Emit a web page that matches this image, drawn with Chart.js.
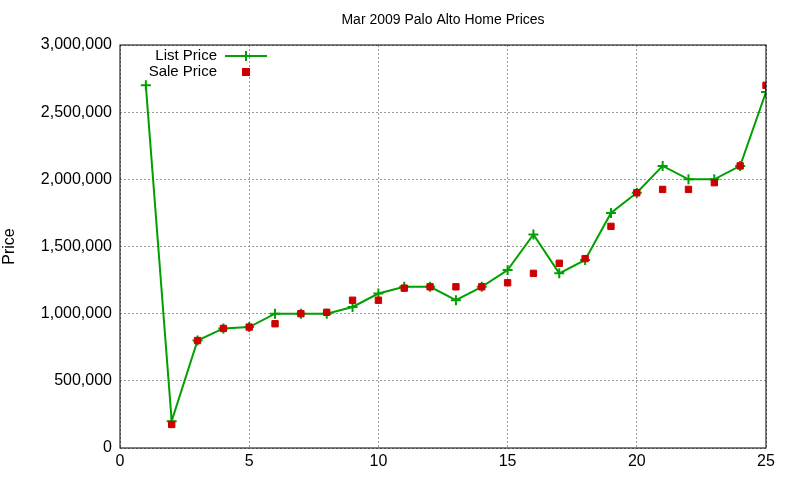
<!DOCTYPE html>
<html>
<head>
<meta charset="utf-8">
<script src="https://cdn.jsdelivr.net/npm/chart.js@4"></script>
<style>
  body { margin: 0; background: #fff; }
  #wrap { width: 800px; height: 480px; }
</style>
</head>
<body>
<div id="wrap"><canvas id="chart"></canvas></div>
<script>
const chartTitle = "Mar 2009 Palo Alto Home Prices";
const houseIndex = [1,2,3,4,5,6,7,8,9,10,11,12,13,14,15,16,17,18,19,20,21,22,23,24,25];
const listPrice = [2700000,200000,800000,890000,900000,1000000,1000000,1000000,1050000,1150000,1200000,1200000,1100000,1200000,1325000,1590000,1300000,1400000,1750000,1900000,2100000,2000000,2000000,2100000,2650000];
const salePrice = [175000,175000,800000,890000,900000,925000,1000000,1010000,1100000,1100000,1190000,1200000,1200000,1200000,1230000,1300000,1375000,1410000,1650000,1900000,1925000,1925000,1975000,2100000,2700000];
salePrice[0] = null; // no sale for the first listing
const xTicks = [0,5,10,15,20,25];

const font = { family: "Liberation Sans", size: 16 };

// gnuplot-style title and legend, drawn on top
const gnuDecor = {
  id: "gnuDecor",
  afterDraw(chart) {
    const ctx = chart.ctx;
    const a = chart.chartArea;
    ctx.save();
    ctx.fillStyle = "#000";
    ctx.font = "14px Liberation Sans";
    ctx.textAlign = "center";
    ctx.textBaseline = "middle";
    ctx.fillText(chartTitle, (a.left + a.right) / 2, 20);
    ctx.font = "15px Liberation Sans";
    ctx.textAlign = "right";
    ctx.fillText("List Price", 217, 56);
    ctx.fillText("Sale Price", 217, 72);
    ctx.strokeStyle = "#00a000";
    ctx.lineWidth = 2;
    ctx.beginPath();
    ctx.moveTo(225, 56); ctx.lineTo(267, 56);
    ctx.moveTo(246, 51); ctx.lineTo(246, 61);
    ctx.moveTo(241, 56); ctx.lineTo(251, 56);
    ctx.stroke();
    ctx.fillStyle = "#cc0000";
    ctx.fillRect(242, 68, 8, 8);
    // border
    ctx.strokeStyle = "#000";
    ctx.lineWidth = 1;
    ctx.strokeRect(a.left, a.top, a.right - a.left, a.bottom - a.top);
    ctx.restore();
  }
};

new Chart(document.getElementById("chart"), {
  type: "scatter",
  data: {
    datasets: [
      {
        label: "List Price",
        data: houseIndex.map((x, i) => ({ x, y: listPrice[i] })),
        showLine: true,
        borderColor: "#00a000",
        backgroundColor: "#00a000",
        borderWidth: 2,
        pointStyle: "cross",
        pointRadius: 5,
        pointBorderWidth: 2,
        order: 2
      },
      {
        label: "Sale Price",
        data: houseIndex.map((x, i) => ({ x, y: salePrice[i] })).filter(p => p.y !== null),
        showLine: false,
        borderColor: "#cc0000",
        backgroundColor: "#cc0000",
        pointStyle: "rect",
        pointRadius: 4.5,
        order: 1
      }
    ]
  },
  options: {
    responsive: true,
    maintainAspectRatio: false,
    animation: false,
    layout: { padding: { top: 45, right: 34, left: 0, bottom: 0 } },
    plugins: { legend: { display: false }, title: { display: false }, tooltip: { enabled: false } },
    scales: {
      x: {
        type: "linear", min: 0, max: 25,
        afterBuildTicks: s => { s.ticks = xTicks.map(v => ({ value: v })); },
        afterFit: s => { s.height = 32; },
        ticks: { color: "#000", font, maxRotation: 0, padding: 4 },
        grid: { color: "#999", tickLength: 0, drawTicks: false },
        border: { display: false, dash: [2, 2] }
      },
      y: {
        min: 0, max: 3000000,
        afterFit: s => { s.width = 120; },
        ticks: { stepSize: 500000, color: "#000", font, padding: 8 },
        grid: { color: "#999", drawTicks: false },
        border: { display: false, dash: [2, 2] },
        title: { display: true, text: "Price", color: "#000", font, padding: 0 }
      }
    }
  },
  plugins: [gnuDecor]
});
</script>
</body>
</html>
